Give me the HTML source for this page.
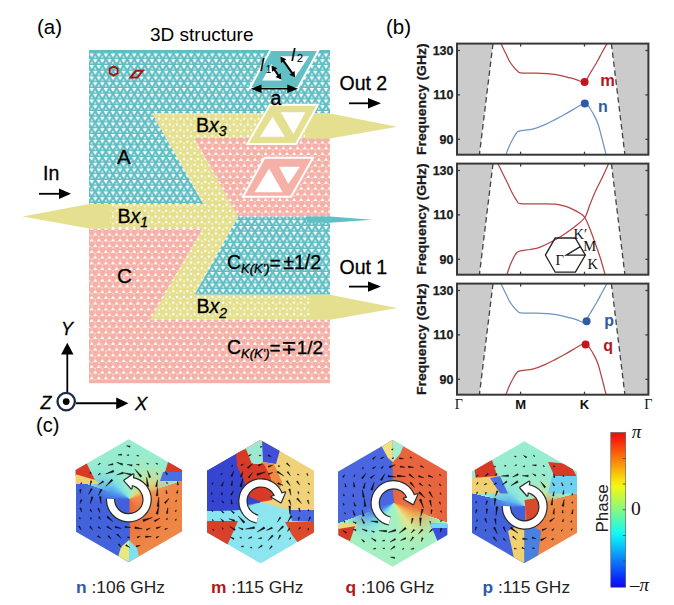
<!DOCTYPE html>
<html><head><meta charset="utf-8">
<style>
html,body{margin:0;padding:0;background:#fff;width:674px;height:605px;overflow:hidden;position:relative}
svg{display:block;position:absolute;left:0;top:0;font-family:"Liberation Sans",sans-serif}
</style></head><body>
<div style="position:absolute;left:75.5px;top:439.3px;width:106.5px;height:123.0px;clip-path:polygon(53.3px 0.0px, 106.5px 30.8px, 106.5px 92.2px, 53.3px 123.0px, 0.0px 92.2px, 0.0px 30.8px);background:conic-gradient(from 0deg at 53.5px 59.7px, #98ecd0 0deg, #98ecd0 71deg, #ee8646 71deg, #ee8646 180deg, #4363dc 180deg, #4363dc 289deg, #98ecd0 289deg)"></div>
<div style="position:absolute;left:75.5px;top:439.3px;width:106.5px;height:123.0px;clip-path:polygon(53.3px 0.0px, 106.5px 30.8px, 106.5px 92.2px, 53.3px 123.0px, 0.0px 92.2px, 0.0px 30.8px);background:conic-gradient(from 0deg at 53.5px 59.7px, #98ecd0 0deg, #b8eaa8 30deg, #f0d070 55deg, #f29050 78deg, #ee7a40 130deg, #e86a38 179deg, #4060dc 181deg, #4262dc 265deg, #50a0f0 292deg, #80e0e0 318deg, #98ecd0 345deg);-webkit-mask-image:radial-gradient(circle at 53.5px 59.7px, #000 20px, transparent 48px);mask-image:radial-gradient(circle at 53.5px 59.7px, #000 20px, transparent 48px)"></div>
<div style="position:absolute;left:207.0px;top:439.8px;width:107.0px;height:123.6px;clip-path:polygon(53.5px 0.0px, 107.0px 30.9px, 107.0px 92.7px, 53.5px 123.6px, 0.0px 92.7px, 0.0px 30.9px);background:conic-gradient(from 0deg at 54.2px 62.2px, #f0d27a 0deg, #f0d27a 90deg, #f0d27a 100deg, #90e6ee 110deg, #88e4f0 250deg, #3848d2 262deg, #3545d0 330deg, #d83a28 335deg, #d8402a 358deg, #f0d27a 360deg)"></div>
<div style="position:absolute;left:337.8px;top:440.1px;width:109.6px;height:126.6px;clip-path:polygon(54.8px 0.0px, 109.6px 31.7px, 109.6px 94.9px, 54.8px 126.6px, 0.0px 94.9px, 0.0px 31.7px);background:conic-gradient(from 0deg at 55.7px 62.9px, #e8643f 0deg, #e8643f 110deg, #a4f0c0 110deg, #a4f0c0 250deg, #4a66e0 250deg, #4a66e0 358deg, #e8643f 358deg)"></div>
<div style="position:absolute;left:337.8px;top:440.1px;width:109.6px;height:126.6px;clip-path:polygon(54.8px 0.0px, 109.6px 31.7px, 109.6px 94.9px, 54.8px 126.6px, 0.0px 94.9px, 0.0px 31.7px);background:conic-gradient(from 0deg at 55.7px 62.9px, #e8643f 0deg, #ec7040 100deg, #f0b050 122deg, #e0e890 145deg, #a4f0c0 172deg, #a0f0d0 205deg, #70d8f0 225deg, #4a80e8 245deg, #4a66e0 262deg, #4a66e0 357deg, #e8643f 359deg);-webkit-mask-image:radial-gradient(circle at 55.7px 62.9px, #000 22px, transparent 50px);mask-image:radial-gradient(circle at 55.7px 62.9px, #000 22px, transparent 50px)"></div>
<div style="position:absolute;left:471.5px;top:441.3px;width:105.7px;height:122.0px;clip-path:polygon(52.8px 0.0px, 105.7px 30.5px, 105.7px 91.5px, 52.8px 122.0px, 0.0px 91.5px, 0.0px 30.5px);background:conic-gradient(from 0deg at 53.2px 65.4px, #98ecd0 0deg, #98ecd0 76deg, #ee8646 76deg, #ee8646 180deg, #4363dc 180deg, #4363dc 284deg, #98ecd0 284deg)"></div>
<div style="position:absolute;left:471.5px;top:441.3px;width:105.7px;height:122.0px;clip-path:polygon(52.8px 0.0px, 105.7px 30.5px, 105.7px 91.5px, 52.8px 122.0px, 0.0px 91.5px, 0.0px 30.5px);background:conic-gradient(from 0deg at 53.2px 65.4px, #98ecd0 0deg, #a8eac0 30deg, #d0e890 55deg, #f09048 80deg, #ee7a40 130deg, #e86a38 179deg, #4060dc 181deg, #4262dc 262deg, #60b8f0 290deg, #88e4e0 318deg, #98ecd0 345deg);-webkit-mask-image:radial-gradient(circle at 53.2px 65.4px, #000 18px, transparent 40px);mask-image:radial-gradient(circle at 53.2px 65.4px, #000 18px, transparent 40px)"></div>
<svg width="674" height="605" viewBox="0 0 674 605">
<defs>
<pattern id="pT" patternUnits="userSpaceOnUse" width="7.1" height="11.5" x="89" y="53.5">
<rect width="7.1" height="11.5" fill="#5fbec3"/>
<path d="M0.40,0.10 L5.00,0.10 L2.70,3.80ZM3.95,5.85 L8.55,5.85 L6.25,9.55ZM-3.15,5.85 L1.45,5.85 L-0.85,9.55ZM7.50,0.10 L12.10,0.10 L9.80,3.80ZM-6.70,0.10 L-2.10,0.10 L-4.40,3.80Z" fill="#fff"/>
<path d="M6.25,2.10 L7.55,4.30 L4.95,4.30ZM-0.85,2.10 L0.45,4.30 L-2.15,4.30ZM2.70,7.85 L4.00,10.05 L1.40,10.05ZM2.70,-3.65 L4.00,-1.45 L1.40,-1.45Z" fill="#fff" opacity="0.9"/>
</pattern>
<pattern id="pP" patternUnits="userSpaceOnUse" width="7.1" height="11.5" x="89" y="53.5">
<rect width="7.1" height="11.5" fill="#f5b1a7"/>
<path d="M2.70,0.60 L4.70,3.90 L0.70,3.90ZM6.25,6.35 L8.25,9.65 L4.25,9.65ZM-0.85,6.35 L1.15,9.65 L-2.85,9.65ZM9.80,0.60 L11.80,3.90 L7.80,3.90ZM-4.40,0.60 L-2.40,3.90 L-6.40,3.90Z" fill="#fff"/>
<path d="M5.15,3.90 L7.35,3.90 L6.25,5.70ZM-1.95,3.90 L0.25,3.90 L-0.85,5.70ZM1.60,9.65 L3.80,9.65 L2.70,11.45ZM1.60,-1.85 L3.80,-1.85 L2.70,-0.05Z" fill="#fff" opacity="0.6"/>
</pattern>
<pattern id="pY" patternUnits="userSpaceOnUse" width="7.1" height="11.5" x="89" y="53.5">
<rect width="7.1" height="11.5" fill="#e5e08e"/>
<circle cx="2.7" cy="1.8" r="1.2" fill="#fff"/>
<circle cx="6.25" cy="7.55" r="1.2" fill="#fff"/>
<circle cx="-0.85" cy="7.55" r="1.2" fill="#fff"/>
<circle cx="6.25" cy="3.6" r="0.85" fill="#fff" opacity="0.85"/>
<circle cx="-0.85" cy="3.6" r="0.85" fill="#fff" opacity="0.85"/>
<circle cx="2.7" cy="9.4" r="0.85" fill="#fff" opacity="0.85"/>
</pattern>
<marker id="ah" viewBox="0 0 10 10" refX="10" refY="5" markerWidth="10" markerHeight="10" markerUnits="userSpaceOnUse" orient="auto-start-reverse"><path d="M0,0 L10,5 L0,10Z" fill="#000"/></marker>
</defs>
<!-- ===== (a) structure ===== -->
<text x="37" y="34" font-size="20.5">(a)</text>
<text x="150" y="40.6" font-size="19">3D structure</text>

<!-- regions -->
<polygon points="89,50 330,50 330,113.5 152.5,113.5 203.5,204 89,204" fill="url(#pT)"/>
<rect x="89" y="50" width="241" height="2.6" fill="#5fbec3"/>
<polygon points="152.5,113.5 330,113.5 330,138 194,138 238,216.3 194.7,294.5 330,294.5 330,320 150,320 202.7,228.5 89,228.5 89,204 203.5,204" fill="url(#pY)"/>
<polygon points="194,138 330,138 330,216.5 238,216.5" fill="url(#pP)"/>
<polygon points="238,216.5 330,216.5 330,294.5 194.7,294.5" fill="url(#pT)"/>
<polygon points="89,228.5 202.7,228.5 150,320 330,320 330,383 89,383" fill="url(#pP)"/>
<rect x="89" y="380.2" width="241" height="3" fill="#f5b1a7"/>

<!-- wedges -->
<polygon points="110,204 89,204 22.5,216.5 89,228.5 110,228.5" fill="#e5e090"/>
<polygon points="305,113.5 330,113.5 397.4,126.7 330,138.5 305,138.5" fill="#e5e090"/>
<polygon points="307,216.5 330,216.5 372.3,219.7 330,222.8 307,222.8" fill="#62c0c4"/>
<polygon points="310,294.8 330,294.8 397.1,307.9 330,319.8 310,319.8" fill="#e5e090"/>

<!-- insets -->
<polygon points="270.5,50 318.6,50 297.8,88.3 249.7,88.3" fill="#62c0c4" stroke="#fff" stroke-width="2"/>
<polygon points="262.2,80.6 281.8,80.6 271.6,64" fill="#fff"/>
<polygon points="280,56.3 309,56.3 294.9,77.6" fill="#fff"/>
<polygon points="270,104.7 318,104.7 296,144 247.3,144" fill="#e5e090" stroke="#fff" stroke-width="2"/>
<polygon points="260,136.7 284.7,136.7 272.7,116.7" fill="#fff"/>
<polygon points="280.7,112.3 305.4,112.3 293.4,134" fill="#fff"/>
<polygon points="264.5,157.7 313,157.7 291,196.8 243,196.8" fill="#f5b1a7" stroke="#fff" stroke-width="2"/>
<polygon points="254.5,192.3 282.7,192.3 269.1,168.6" fill="#fff"/>
<polygon points="279.1,166.8 300,166.8 288.2,184" fill="#fff"/>

<!-- markers -->
<polygon points="113.6,66.3 117.6,68.6 117.6,73.2 113.6,75.5 109.6,73.2 109.6,68.6" fill="none" stroke="#a51515" stroke-width="2"/>
<polygon points="136,70.8 142.8,70.8 137.2,77.6 130.6,77.6" fill="none" stroke="#a51515" stroke-width="2"/>

<!-- labels -->
<g font-size="19.5" stroke="#000" stroke-width="0.3">
<text x="117" y="164.3" font-size="20.5">A</text>
<text x="117" y="282.8" font-size="20.8">C</text>
<text x="117.5" y="222.6">B<tspan font-style="italic">x</tspan><tspan font-style="italic" font-size="14" dy="4.5">1</tspan></text>
<text x="196" y="131.7">B<tspan font-style="italic">x</tspan><tspan font-style="italic" font-size="14" dy="4.5">3</tspan></text>
<text x="196.5" y="313">B<tspan font-style="italic">x</tspan><tspan font-style="italic" font-size="14" dy="4.5">2</tspan></text>
<text x="227" y="269.3">C<tspan font-style="italic" font-size="13" dy="4">K(K')</tspan><tspan dy="-4" font-size="19">=</tspan><tspan dx="2.5" font-size="19.5">±1/2</tspan></text>
<text x="227" y="353.9">C<tspan font-style="italic" font-size="13" dy="4">K(K')</tspan><tspan dy="-4" font-size="19">=∓1/2</tspan></text>
<text x="43" y="180.3">In</text>
<text x="339.5" y="90.4">Out 2</text>
<text x="339.5" y="274.1">Out 1</text>
<text x="270.5" y="104.9">a</text>
</g>
<text x="260" y="70.8" font-size="18" font-style="italic">l</text><text x="265.8" y="72.8" font-size="10">1</text>
<text x="291" y="61.2" font-size="18.5" font-style="italic">l</text><text x="296.8" y="62" font-size="11.5">2</text>

<!-- arrows -->
<g stroke="#000" stroke-width="1.8" fill="none">
<line x1="39" y1="193.8" x2="62" y2="193.8"/>
<line x1="349" y1="103.3" x2="370" y2="103.3"/>
<line x1="349" y1="286.6" x2="370" y2="286.6"/>
</g>
<polygon points="59,188.6 71,193.8 59,199" fill="#000"/>
<polygon points="368,98.1 381,103.3 368,108.5" fill="#000"/>
<polygon points="368,281.4 381,286.6 368,291.8" fill="#000"/>
<!-- a arrow -->
<line x1="255" y1="88.7" x2="294" y2="88.7" stroke="#000" stroke-width="1.8"/>
<polygon points="250.8,88.7 261.5,84.5 261.5,92.9" fill="#000"/>
<polygon points="298,88.7 287.3,84.5 287.3,92.9" fill="#000"/>
<!-- l1 / l2 arrows -->
<line x1="274.0" y1="69.1" x2="278.8" y2="76.0" stroke="#000" stroke-width="2.0"/><polygon points="271.5,65.5 272.0,71.8 277.3,68.2" fill="#000"/><polygon points="281.3,79.6 275.5,76.9 280.8,73.3" fill="#000"/>
<line x1="282.9" y1="60.2" x2="292.6" y2="73.7" stroke="#000" stroke-width="2.0"/><polygon points="280.4,56.6 281.0,62.9 286.2,59.2" fill="#000"/><polygon points="295.1,77.3 289.3,74.7 294.5,71.0" fill="#000"/>

<!-- axes -->
<line x1="67.3" y1="392" x2="67.3" y2="352" stroke="#000" stroke-width="1.8"/>
<polygon points="67.3,342.7 73.5,354.5 61.1,354.5" fill="#000"/>
<line x1="76" y1="403.3" x2="118" y2="403.3" stroke="#000" stroke-width="1.9"/>
<polygon points="128.5,403.3 116.2,397.4 116.2,409.2" fill="#000"/>
<circle cx="66.2" cy="401.6" r="8.7" fill="#fff" stroke="#1b2a4a" stroke-width="2.3"/>
<circle cx="66.2" cy="401.6" r="3.4" fill="#000"/>
<g font-size="18" font-style="italic" stroke="#000" stroke-width="0.3">
<text x="61" y="334.5">Y</text>
<text x="40.5" y="409">Z</text>
<text x="135" y="409.5" font-size="18.5">X</text>
</g>

<text x="386" y="34" font-size="20.5">(b)</text>
<polygon points="457.0,43.6 493,43.6 479.4,154.7 457.0,154.7" fill="#cbcbcb"/>
<polygon points="611.4,43.6 648.4,43.6 648.4,154.7 624.9,154.7" fill="#cbcbcb"/>
<line x1="493" y1="43.6" x2="479.4" y2="154.7" stroke="#444" stroke-width="1.3" stroke-dasharray="5.5,3.5"/>
<line x1="611.4" y1="43.6" x2="624.9" y2="154.7" stroke="#444" stroke-width="1.3" stroke-dasharray="5.5,3.5"/>
<path d="M500.90,43.60 C501.42,44.67 502.98,47.93 504.00,50.00 C505.02,52.07 506.03,54.03 507.00,56.00 C507.97,57.97 508.72,60.00 509.80,61.80 C510.88,63.60 512.17,65.22 513.50,66.80 C514.83,68.38 516.63,70.30 517.80,71.30 C518.97,72.30 517.63,72.50 520.50,72.80 C523.37,73.10 530.17,72.93 535.00,73.10 C539.83,73.27 545.33,73.43 549.50,73.80 C553.67,74.17 556.68,74.65 560.00,75.30 C563.32,75.95 566.57,76.95 569.40,77.70 C572.23,78.45 574.47,79.07 577.00,79.80 C579.53,80.53 582.43,83.15 584.60,82.10 C586.77,81.05 587.92,76.88 590.00,73.50 C592.08,70.12 595.10,65.30 597.10,61.80 C599.10,58.30 600.33,55.53 602.00,52.50 C603.67,49.47 606.25,45.08 607.10,43.60" fill="none" stroke="#b34444" stroke-width="1.25"/>
<path d="M505.90,154.70 C506.50,153.17 508.18,148.42 509.50,145.50 C510.82,142.58 512.55,139.37 513.80,137.20 C515.05,135.03 515.97,133.55 517.00,132.50 C518.03,131.45 517.23,131.50 520.00,130.90 C522.77,130.30 529.43,129.95 533.60,128.90 C537.77,127.85 541.35,126.18 545.00,124.60 C548.65,123.02 552.17,121.12 555.50,119.40 C558.83,117.68 562.03,115.97 565.00,114.30 C567.97,112.63 570.00,111.20 573.30,109.40 C576.60,107.60 582.02,103.65 584.80,103.50 C587.58,103.35 588.27,106.18 590.00,108.50 C591.73,110.82 593.78,114.57 595.20,117.40 C596.62,120.23 597.52,122.53 598.50,125.50 C599.48,128.47 600.23,131.95 601.10,135.20 C601.97,138.45 602.87,141.75 603.70,145.00 C604.53,148.25 605.70,153.08 606.10,154.70" fill="none" stroke="#7093c4" stroke-width="1.25"/>
<rect x="457.0" y="43.6" width="191.4" height="111.1" fill="none" stroke="#383838" stroke-width="2"/>
<line x1="457.0" y1="50.5" x2="460.0" y2="50.5" stroke="#3c3c3c" stroke-width="1.3"/>
<line x1="648.4" y1="50.5" x2="645.4" y2="50.5" stroke="#3c3c3c" stroke-width="1.3"/>
<text x="453.5" y="54.8" font-size="12.5" font-weight="bold" text-anchor="end" fill="#1a1a1a" stroke="#1a1a1a" stroke-width="0.25">130</text>
<line x1="457.0" y1="94.9" x2="460.0" y2="94.9" stroke="#3c3c3c" stroke-width="1.3"/>
<line x1="648.4" y1="94.9" x2="645.4" y2="94.9" stroke="#3c3c3c" stroke-width="1.3"/>
<text x="453.5" y="99.2" font-size="12.5" font-weight="bold" text-anchor="end" fill="#1a1a1a" stroke="#1a1a1a" stroke-width="0.25">110</text>
<line x1="457.0" y1="139.3" x2="460.0" y2="139.3" stroke="#3c3c3c" stroke-width="1.3"/>
<line x1="648.4" y1="139.3" x2="645.4" y2="139.3" stroke="#3c3c3c" stroke-width="1.3"/>
<text x="453.5" y="143.6" font-size="12.5" font-weight="bold" text-anchor="end" fill="#1a1a1a" stroke="#1a1a1a" stroke-width="0.25">90</text>
<line x1="520.6" y1="43.6" x2="520.6" y2="46.6" stroke="#3c3c3c" stroke-width="1.3"/>
<line x1="520.6" y1="154.7" x2="520.6" y2="151.7" stroke="#3c3c3c" stroke-width="1.3"/>
<line x1="584.5" y1="43.6" x2="584.5" y2="46.6" stroke="#3c3c3c" stroke-width="1.3"/>
<line x1="584.5" y1="154.7" x2="584.5" y2="151.7" stroke="#3c3c3c" stroke-width="1.3"/>
<text transform="translate(426.3,99.2) rotate(-90)" font-size="13.2" font-weight="bold" text-anchor="middle" textLength="111.5" lengthAdjust="spacingAndGlyphs" fill="#1a1a1a" stroke="#1a1a1a" stroke-width="0.25">Frequency (GHz)</text>
<polygon points="457.0,163.6 493,163.6 479.4,274.7 457.0,274.7" fill="#cbcbcb"/>
<polygon points="611.4,163.6 648.4,163.6 648.4,274.7 624.9,274.7" fill="#cbcbcb"/>
<line x1="493" y1="163.6" x2="479.4" y2="274.7" stroke="#444" stroke-width="1.3" stroke-dasharray="5.5,3.5"/>
<line x1="611.4" y1="163.6" x2="624.9" y2="274.7" stroke="#444" stroke-width="1.3" stroke-dasharray="5.5,3.5"/>
<path d="M497.90,163.60 C498.67,165.17 500.83,169.63 502.50,173.00 C504.17,176.37 506.32,180.55 507.90,183.80 C509.48,187.05 510.52,189.68 512.00,192.50 C513.48,195.32 515.38,198.83 516.80,200.70 C518.22,202.57 516.63,203.18 520.50,203.70 C524.37,204.22 534.17,203.73 540.00,203.80 C545.83,203.87 551.33,203.70 555.50,204.10 C559.67,204.50 562.03,205.28 565.00,206.20 C567.97,207.12 570.88,208.47 573.30,209.60 C575.72,210.73 577.58,211.68 579.50,213.00 C581.42,214.32 583.05,214.83 584.80,217.50 C586.55,220.17 588.27,224.70 590.00,229.00 C591.73,233.30 593.45,238.38 595.20,243.30 C596.95,248.22 598.85,253.27 600.50,258.50 C602.15,263.73 604.33,272.00 605.10,274.70" fill="none" stroke="#b34444" stroke-width="1.25"/>
<path d="M506.90,274.70 C507.42,273.17 508.85,268.42 510.00,265.50 C511.15,262.58 512.63,259.37 513.80,257.20 C514.97,255.03 515.88,253.55 517.00,252.50 C518.12,251.45 518.33,251.40 520.50,250.90 C522.67,250.40 526.82,250.10 530.00,249.50 C533.18,248.90 535.93,248.63 539.60,247.30 C543.27,245.97 547.70,243.82 552.00,241.50 C556.30,239.18 561.57,235.90 565.40,233.40 C569.23,230.90 571.77,229.15 575.00,226.50 C578.23,223.85 582.30,221.17 584.80,217.50 C587.30,213.83 588.27,208.80 590.00,204.50 C591.73,200.20 593.20,196.12 595.20,191.70 C597.20,187.28 599.75,182.68 602.00,178.00 C604.25,173.32 607.58,166.00 608.70,163.60" fill="none" stroke="#b34444" stroke-width="1.25"/>
<rect x="457.0" y="163.6" width="191.4" height="111.1" fill="none" stroke="#383838" stroke-width="2"/>
<line x1="457.0" y1="170.5" x2="460.0" y2="170.5" stroke="#3c3c3c" stroke-width="1.3"/>
<line x1="648.4" y1="170.5" x2="645.4" y2="170.5" stroke="#3c3c3c" stroke-width="1.3"/>
<text x="453.5" y="174.8" font-size="12.5" font-weight="bold" text-anchor="end" fill="#1a1a1a" stroke="#1a1a1a" stroke-width="0.25">130</text>
<line x1="457.0" y1="214.9" x2="460.0" y2="214.9" stroke="#3c3c3c" stroke-width="1.3"/>
<line x1="648.4" y1="214.9" x2="645.4" y2="214.9" stroke="#3c3c3c" stroke-width="1.3"/>
<text x="453.5" y="219.2" font-size="12.5" font-weight="bold" text-anchor="end" fill="#1a1a1a" stroke="#1a1a1a" stroke-width="0.25">110</text>
<line x1="457.0" y1="259.3" x2="460.0" y2="259.3" stroke="#3c3c3c" stroke-width="1.3"/>
<line x1="648.4" y1="259.3" x2="645.4" y2="259.3" stroke="#3c3c3c" stroke-width="1.3"/>
<text x="453.5" y="263.6" font-size="12.5" font-weight="bold" text-anchor="end" fill="#1a1a1a" stroke="#1a1a1a" stroke-width="0.25">90</text>
<line x1="520.6" y1="163.6" x2="520.6" y2="166.6" stroke="#3c3c3c" stroke-width="1.3"/>
<line x1="520.6" y1="274.7" x2="520.6" y2="271.7" stroke="#3c3c3c" stroke-width="1.3"/>
<line x1="584.5" y1="163.6" x2="584.5" y2="166.6" stroke="#3c3c3c" stroke-width="1.3"/>
<line x1="584.5" y1="274.7" x2="584.5" y2="271.7" stroke="#3c3c3c" stroke-width="1.3"/>
<text transform="translate(426.3,219.1) rotate(-90)" font-size="13.2" font-weight="bold" text-anchor="middle" textLength="111.5" lengthAdjust="spacingAndGlyphs" fill="#1a1a1a" stroke="#1a1a1a" stroke-width="0.25">Frequency (GHz)</text>
<polygon points="457.0,283.6 493,283.6 479.4,394.7 457.0,394.7" fill="#cbcbcb"/>
<polygon points="611.4,283.6 648.4,283.6 648.4,394.7 624.9,394.7" fill="#cbcbcb"/>
<line x1="493" y1="283.6" x2="479.4" y2="394.7" stroke="#444" stroke-width="1.3" stroke-dasharray="5.5,3.5"/>
<line x1="611.4" y1="283.6" x2="624.9" y2="394.7" stroke="#444" stroke-width="1.3" stroke-dasharray="5.5,3.5"/>
<path d="M500.90,283.60 C501.42,284.67 502.98,287.93 504.00,290.00 C505.02,292.07 506.03,294.03 507.00,296.00 C507.97,297.97 508.72,300.00 509.80,301.80 C510.88,303.60 512.17,305.22 513.50,306.80 C514.83,308.38 516.63,310.30 517.80,311.30 C518.97,312.30 517.63,312.50 520.50,312.80 C523.37,313.10 530.17,312.93 535.00,313.10 C539.83,313.27 545.33,313.43 549.50,313.80 C553.67,314.17 556.68,314.65 560.00,315.30 C563.32,315.95 566.57,316.95 569.40,317.70 C572.23,318.45 574.47,319.07 577.00,319.80 C579.53,320.53 582.43,323.15 584.60,322.10 C586.77,321.05 587.92,316.88 590.00,313.50 C592.08,310.12 595.10,305.30 597.10,301.80 C599.10,298.30 600.33,295.53 602.00,292.50 C603.67,289.47 606.25,285.08 607.10,283.60" fill="none" stroke="#7093c4" stroke-width="1.25"/>
<path d="M505.90,394.70 C506.50,393.17 508.18,388.42 509.50,385.50 C510.82,382.58 512.55,379.37 513.80,377.20 C515.05,375.03 515.97,373.55 517.00,372.50 C518.03,371.45 517.23,371.50 520.00,370.90 C522.77,370.30 529.43,369.95 533.60,368.90 C537.77,367.85 541.35,366.18 545.00,364.60 C548.65,363.02 552.17,361.12 555.50,359.40 C558.83,357.68 562.03,355.97 565.00,354.30 C567.97,352.63 570.00,351.20 573.30,349.40 C576.60,347.60 582.02,343.65 584.80,343.50 C587.58,343.35 588.27,346.18 590.00,348.50 C591.73,350.82 593.78,354.57 595.20,357.40 C596.62,360.23 597.52,362.53 598.50,365.50 C599.48,368.47 600.23,371.95 601.10,375.20 C601.97,378.45 602.87,381.75 603.70,385.00 C604.53,388.25 605.70,393.08 606.10,394.70" fill="none" stroke="#b34444" stroke-width="1.25"/>
<rect x="457.0" y="283.6" width="191.4" height="111.1" fill="none" stroke="#383838" stroke-width="2"/>
<line x1="457.0" y1="290.5" x2="460.0" y2="290.5" stroke="#3c3c3c" stroke-width="1.3"/>
<line x1="648.4" y1="290.5" x2="645.4" y2="290.5" stroke="#3c3c3c" stroke-width="1.3"/>
<text x="453.5" y="294.8" font-size="12.5" font-weight="bold" text-anchor="end" fill="#1a1a1a" stroke="#1a1a1a" stroke-width="0.25">130</text>
<line x1="457.0" y1="334.9" x2="460.0" y2="334.9" stroke="#3c3c3c" stroke-width="1.3"/>
<line x1="648.4" y1="334.9" x2="645.4" y2="334.9" stroke="#3c3c3c" stroke-width="1.3"/>
<text x="453.5" y="339.2" font-size="12.5" font-weight="bold" text-anchor="end" fill="#1a1a1a" stroke="#1a1a1a" stroke-width="0.25">110</text>
<line x1="457.0" y1="379.3" x2="460.0" y2="379.3" stroke="#3c3c3c" stroke-width="1.3"/>
<line x1="648.4" y1="379.3" x2="645.4" y2="379.3" stroke="#3c3c3c" stroke-width="1.3"/>
<text x="453.5" y="383.6" font-size="12.5" font-weight="bold" text-anchor="end" fill="#1a1a1a" stroke="#1a1a1a" stroke-width="0.25">90</text>
<line x1="520.6" y1="283.6" x2="520.6" y2="286.6" stroke="#3c3c3c" stroke-width="1.3"/>
<line x1="520.6" y1="394.7" x2="520.6" y2="391.7" stroke="#3c3c3c" stroke-width="1.3"/>
<line x1="584.5" y1="283.6" x2="584.5" y2="286.6" stroke="#3c3c3c" stroke-width="1.3"/>
<line x1="584.5" y1="394.7" x2="584.5" y2="391.7" stroke="#3c3c3c" stroke-width="1.3"/>
<text transform="translate(426.3,339.2) rotate(-90)" font-size="13.2" font-weight="bold" text-anchor="middle" textLength="111.5" lengthAdjust="spacingAndGlyphs" fill="#1a1a1a" stroke="#1a1a1a" stroke-width="0.25">Frequency (GHz)</text>
<circle cx="584.6" cy="82.1" r="4" fill="#c0161c"/>
<circle cx="584.8" cy="103.5" r="4" fill="#2f5aa6"/>
<circle cx="586.6" cy="321.3" r="4" fill="#2f5aa6"/>
<circle cx="585.6" cy="344.5" r="4" fill="#c0161c"/>
<text x="600.3" y="86" font-size="16.5" font-weight="bold" fill="#b5161c">m</text>
<text x="598" y="111.7" font-size="16" font-weight="bold" fill="#2f5aa6">n</text>
<text x="604.3" y="325.8" font-size="16" font-weight="bold" fill="#2f5aa6">p</text>
<text x="603.3" y="351.2" font-size="16" font-weight="bold" fill="#b5161c">q</text>
<polygon points="555.2,238.0 575.2,238.0 585.4,255.1 575.4,272.2 555.2,272.2 545.4,255.1" fill="none" stroke="#222" stroke-width="1.3"/>
<polyline points="585.4,255.1 566.2,255.1 580.3,246.6" fill="none" stroke="#222" stroke-width="1.3"/>
<g font-family="Liberation Serif" font-size="14.5" fill="#111"><text x="555.6" y="265.2">Γ</text><text x="573.5" y="238.5">K′</text><text x="583.3" y="250.5">M</text><text x="587.6" y="269.2">K</text></g>
<g font-size="13" font-weight="bold" fill="#111" text-anchor="middle"><text x="520.7" y="409">M</text><text x="584.5" y="409">K</text></g>
<g font-family="Liberation Serif" font-size="14" fill="#111" text-anchor="middle"><text x="458.8" y="408.5">Γ</text><text x="648.3" y="408.5">Γ</text></g>
<text x="36" y="432" font-size="20">(c)</text>
<defs>
<clipPath id="hc0"><polygon points="128.8,439.3 182.1,470.1 182.1,531.5 128.8,562.3 75.5,531.5 75.5,470.1"/></clipPath>
<clipPath id="hc1"><polygon points="260.5,439.8 314.0,470.7 314.0,532.5 260.5,563.4 207.0,532.5 207.0,470.7"/></clipPath>
<clipPath id="hc2"><polygon points="392.6,440.1 447.4,471.8 447.4,535.0 392.6,566.7 337.8,535.0 337.8,471.8"/></clipPath>
<clipPath id="hc3"><polygon points="524.3,441.3 577.1,471.8 577.1,532.8 524.3,563.3 471.5,532.8 471.5,471.8"/></clipPath>
</defs>
<g clip-path="url(#hc0)">
<polygon points="74.9,465 86,462 95,480 74.9,476" fill="#d83a28"/>
<polygon points="74.9,474 95,480 100,484 74.9,484" fill="#f0d070"/>
<polygon points="168,462 182.6,466 182.6,472 165,472" fill="#d83a28"/>
<polygon points="163,472 182.6,472 182.6,481 160,481" fill="#4a70e0"/>
<polygon points="121,547 129,540 129,562 118,557" fill="#e8e880"/>
<polygon points="129,540 137,548 139,557 129,562" fill="#80e0f0"/>
</g>
<g clip-path="url(#hc1)">
<polygon points="240,449 260.5,439.8 263,446 263,464 250,464" fill="#9ce8d0"/>
<polygon points="262,441 280,450 276,464 263,462" fill="#4050d8"/>
<polygon points="206.7,470 240,449 248,475 252,497 240,510 206.7,511" fill="#3545d0"/>
<polygon points="262,462 274,464 282,482 276,498 270,492" fill="#ec8a42"/>
<polygon points="236,451 246,449 252,464 264,464 270,476 274,490 272,500 261,502 250,497 243,478 237,466" fill="#d83a28"/>
<polygon points="206.7,511 244,511 250,520 206.7,521" fill="#88e4ee"/>
<polygon points="289,510 316,510 316,522 292,521" fill="#4a68e0"/>
<polygon points="206.7,521 238,521 226,548 214,540 206.7,533" fill="#d8402a"/>
<polygon points="285,522 316,522 316,533 302,548 292,535" fill="#dc4a2c"/>
</g>
<g clip-path="url(#hc2)">
<polygon points="380,440 392.6,440 393,462 388,458 382,447" fill="#f0e080"/>
<polygon points="392.6,440 406,440 400,454 393,462" fill="#a0f0d0"/>
<polygon points="338.4,528 356,523.5 350,541 338.4,536" fill="#d83a28"/>
<polygon points="338.4,523.5 357,523.5 356,526 338.4,529" fill="#f0d878"/>
<polygon points="430,523.5 448.9,524 448.9,536 438,542" fill="#3a50d8"/>
<polygon points="430,523.5 448.9,523.5 448.9,528 432,528" fill="#70d8f0"/>
</g>
<g clip-path="url(#hc3)">
<polygon points="474,466 492,460 498,478 476,480" fill="#d83a28"/>
<polygon points="472,478 498,476 504,493.5 472,493.5" fill="#f0d070"/>
<polygon points="490,478 500,476 508,493.5 500,493.5" fill="#4a70e0"/>
<polygon points="548,462 570,464 577.5,478 558,484" fill="#d83a28"/>
<polygon points="552,476 577.5,476 577.5,493.5 548,493.5" fill="#70d0f0"/>
<polygon points="508,531 524.5,521 524.5,563 514,558" fill="#f0d070"/>
<polygon points="524.5,521 541,531 538,556 524.5,563" fill="#4a80e0"/>
<polygon points="524.5,500 537,498 540,516 527,522" fill="#d84a30"/>
</g>
<path d="M126.5,445.8L130.2,446.1L129.9,447.3ZM118.0,454.9L121.6,454.1L121.7,455.3ZM126.9,455.2L128.7,454.6L128.8,455.6ZM136.6,455.6L138.5,455.3L138.4,456.3ZM97.8,465.0L99.9,462.9L100.5,463.8ZM108.1,465.3L112.8,463.5L113.1,464.8ZM116.6,462.3L122.8,463.8L122.3,465.3ZM127.0,464.5L132.2,464.7L132.0,466.1ZM136.1,464.4L139.2,464.2L139.1,465.3ZM146.6,463.1L148.5,463.7L147.9,464.6ZM155.7,463.1L157.8,463.7L157.2,464.6ZM89.3,473.3L90.7,472.1L91.1,473.1ZM97.9,475.1L99.8,473.1L100.5,474.0ZM105.7,473.9L113.3,470.2L113.9,471.9ZM116.6,474.9L123.0,472.0L123.5,473.6ZM123.6,472.8L132.9,474.2L132.4,476.1ZM134.9,469.2L141.9,476.0L140.4,477.2ZM147.4,470.6L150.8,477.2L149.2,477.8ZM156.4,472.6L158.1,474.1L157.3,474.7ZM165.3,471.5L167.8,474.2L166.7,474.8ZM80.4,483.9L81.4,482.4L82.1,483.2ZM90.1,485.4L90.7,480.8L92.0,481.1ZM98.3,484.8L102.9,480.8L103.8,482.1ZM105.7,486.5L111.6,479.1L112.9,480.4ZM146.6,477.2L148.8,486.4L146.9,486.7ZM157.5,479.8L157.1,486.8L155.5,486.5ZM166.5,481.9L167.8,483.2L166.9,483.7ZM177.7,480.9L178.5,484.8L177.2,484.9ZM80.2,493.4L79.8,489.6L81.1,489.6ZM88.6,494.3L91.0,488.5L92.3,489.2ZM98.3,495.6L100.7,489.1L102.1,489.8ZM157.5,487.6L157.9,495.9L156.2,495.8ZM166.1,490.1L167.3,493.4L166.1,493.6ZM177.6,490.2L177.7,493.3L176.5,493.1ZM80.0,503.5L80.9,499.6L82.1,500.1ZM90.4,503.7L91.4,496.7L93.0,497.2ZM101.1,503.5L99.4,496.8L101.0,496.6ZM158.8,497.2L158.9,506.3L157.0,506.2ZM169.1,498.5L165.5,503.6L164.3,502.6ZM176.4,499.8L176.3,501.7L175.4,501.4ZM81.8,511.9L79.7,508.2L80.9,507.7ZM91.6,512.2L89.8,509.7L90.9,509.2ZM99.8,512.5L97.8,508.6L99.0,508.2ZM158.9,505.6L157.9,514.2L156.1,513.8ZM167.9,507.7L167.7,513.5L166.3,513.3ZM176.3,509.8L176.0,511.7L175.1,511.2ZM80.2,519.3L79.2,517.7L80.1,517.4ZM91.1,519.5L90.2,517.9L91.2,517.6ZM100.5,519.4L98.4,517.1L99.4,516.5ZM112.8,521.5L106.8,517.4L107.9,516.1ZM152.4,517.4L143.5,521.6L142.9,519.7ZM159.9,518.2L155.0,521.8L154.3,520.5ZM167.3,517.9L167.2,519.8L166.2,519.4ZM176.3,518.7L176.0,520.6L175.1,520.1ZM81.1,529.9L78.6,526.6L79.7,525.9ZM92.7,530.0L89.5,526.9L90.5,526.1ZM101.0,528.8L97.9,527.5L98.6,526.5ZM111.8,529.6L106.9,527.3L107.6,526.1ZM121.2,528.4L115.1,527.7L115.4,526.2ZM130.8,527.5L124.9,527.6L125.1,526.2ZM142.2,528.8L134.8,528.5L135.1,526.8ZM150.4,528.0L146.7,530.4L146.2,529.2ZM160.7,526.7L156.7,528.9L156.2,527.6ZM167.6,528.4L165.2,529.8L164.8,528.7ZM100.8,538.0L97.4,536.6L98.0,535.5ZM111.2,539.1L107.8,536.4L108.8,535.5ZM121.2,538.3L116.6,534.8L117.6,533.8ZM129.9,537.8L127.5,537.4L127.9,536.4ZM140.3,536.2L137.6,537.9L137.2,536.8ZM151.4,536.6L145.6,537.5L145.5,536.0ZM159.0,536.4L156.4,538.2L156.0,537.1ZM121.4,547.4L118.1,544.6L119.1,543.7ZM129.8,547.5L125.6,545.7L126.3,544.5ZM140.4,545.5L136.3,547.0L136.1,545.7Z" fill="#0a0a0a" stroke="#0a0a0a" stroke-width="0.4" stroke-linejoin="round"/>
<path d="M262.2,446.7L260.5,447.5L260.3,446.5ZM251.3,454.6L249.2,456.2L248.7,455.2ZM261.2,455.3L259.5,456.1L259.3,455.1ZM271.2,456.5L268.0,455.9L268.4,454.8ZM232.8,464.9L232.2,466.6L231.3,466.0ZM243.4,464.2L241.4,465.8L240.9,464.8ZM253.0,463.3L248.3,468.6L247.2,467.4ZM262.5,463.4L258.9,466.2L258.2,465.0ZM272.6,465.3L268.5,467.3L268.1,466.1ZM280.1,466.0L278.2,466.7L278.1,465.7ZM290.1,466.5L286.3,463.8L287.2,462.8ZM222.3,473.3L221.4,474.9L220.7,474.2ZM233.7,471.0L232.2,476.6L230.8,476.1ZM242.8,471.4L241.8,477.1L240.4,476.6ZM252.6,472.5L249.3,478.1L248.0,477.2ZM265.5,471.9L257.4,475.6L256.8,473.8ZM272.8,472.5L268.7,474.7L268.2,473.5ZM283.8,475.9L276.8,472.3L277.8,470.9ZM290.4,475.8L287.0,472.2L288.1,471.4ZM299.2,475.1L297.4,474.6L297.9,473.8ZM308.0,475.9L306.5,473.8L307.5,473.4ZM212.8,482.6L212.4,484.4L211.5,483.9ZM223.8,481.7L222.2,486.3L221.0,485.7ZM232.3,480.6L232.3,485.5L230.9,485.3ZM242.9,478.3L241.7,487.0L239.9,486.5ZM283.1,485.4L277.5,483.9L278.1,482.5ZM290.2,485.7L286.2,481.5L287.4,480.6ZM299.7,485.1L296.5,481.7L297.6,480.9ZM309.4,484.9L308.1,483.5L309.1,483.0ZM211.8,492.3L212.3,494.1L211.3,494.2ZM221.8,492.1L222.5,494.8L221.4,494.9ZM233.4,490.7L231.8,495.2L230.6,494.6ZM290.9,495.3L288.7,489.3L290.2,488.9ZM298.5,494.3L297.8,491.8L298.9,491.7ZM309.3,493.4L307.7,492.3L308.5,491.7ZM212.5,500.1L213.7,501.6L212.8,502.0ZM221.9,500.7L223.9,502.3L223.0,503.0ZM231.2,499.4L232.5,503.9L231.1,504.1ZM290.9,505.2L288.5,500.2L289.8,499.8ZM301.5,503.5L296.6,499.0L297.8,498.0ZM309.0,504.2L307.1,500.5L308.3,500.1ZM211.6,510.1L213.2,511.0L212.5,511.7ZM220.6,510.3L224.1,512.4L223.2,513.3ZM230.5,510.2L234.5,512.6L233.6,513.7ZM290.0,514.4L288.8,506.0L290.6,505.9ZM300.1,511.9L298.4,508.4L299.6,508.1ZM308.9,511.3L307.7,509.9L308.7,509.5ZM212.3,519.2L213.6,520.5L212.7,521.0ZM220.6,518.6L223.8,521.0L222.9,521.9ZM228.8,518.7L234.7,520.0L234.2,521.4ZM238.2,516.1L245.0,521.9L243.6,523.2ZM277.4,522.1L279.8,517.0L281.0,517.8ZM287.8,522.1L290.6,515.5L292.1,516.3ZM298.6,520.4L298.6,517.3L299.8,517.6ZM308.5,521.1L309.7,516.9L310.9,517.4ZM212.2,529.5L214.1,529.7L213.7,530.6ZM222.2,527.5L223.5,528.8L222.6,529.3ZM229.7,526.5L235.4,529.3L234.6,530.6ZM238.5,527.6L243.2,528.8L242.6,530.0ZM245.5,529.1L254.3,526.7L254.6,528.5ZM257.2,531.9L264.0,526.8L265.0,528.4ZM266.5,530.3L271.9,527.1L272.5,528.5ZM277.7,531.8L282.5,525.8L283.7,527.0ZM287.4,531.4L289.2,528.1L290.1,528.9ZM298.5,529.4L300.1,527.2L300.8,528.0ZM308.0,530.4L307.9,528.5L308.9,528.7ZM230.0,537.0L234.1,538.2L233.6,539.4ZM239.7,537.2L241.6,537.4L241.2,538.4ZM248.1,538.4L251.5,536.6L251.9,537.8ZM258.3,538.5L261.5,537.4L261.7,538.6ZM268.0,540.5L272.1,535.0L273.3,536.1ZM278.1,539.4L279.7,535.0L280.9,535.6ZM289.6,539.4L290.1,537.6L291.0,538.2ZM241.0,546.6L243.3,545.8L243.4,546.9ZM250.0,547.3L251.9,547.2L251.7,548.2ZM258.3,548.2L261.6,544.9L262.4,546.0ZM269.4,549.2L271.4,545.7L272.4,546.5Z" fill="#0a0a0a" stroke="#0a0a0a" stroke-width="0.4" stroke-linejoin="round"/>
<path d="M393.3,448.8L392.1,450.2L391.6,449.3ZM375.5,456.5L373.3,459.5L372.4,458.6ZM384.1,456.9L381.1,459.1L380.6,458.0ZM394.0,457.7L392.4,458.9L392.0,458.0ZM403.5,458.6L399.5,459.0L399.6,457.7ZM412.2,458.1L409.9,457.8L410.3,456.8ZM363.2,467.0L363.3,468.8L362.3,468.6ZM375.9,466.6L373.1,469.0L372.5,467.9ZM383.4,465.9L381.9,468.8L380.9,468.1ZM395.3,464.8L389.7,467.9L389.2,466.4ZM404.9,467.2L400.2,467.3L400.4,466.0ZM413.7,467.4L408.4,467.5L408.5,466.1ZM423.9,467.6L420.3,466.5L420.9,465.4ZM344.5,474.6L343.6,477.4L342.6,476.9ZM354.7,474.7L354.7,476.6L353.7,476.3ZM365.9,473.4L362.8,478.8L361.5,477.9ZM374.8,474.8L371.2,478.5L370.3,477.4ZM384.8,473.8L381.9,480.6L380.4,479.8ZM395.8,476.9L388.0,477.1L388.2,475.4ZM405.5,476.5L397.2,476.8L397.3,475.0ZM414.3,478.2L408.9,475.1L409.8,473.8ZM423.9,477.8L418.4,476.8L418.8,475.4ZM433.1,477.5L428.2,476.3L428.7,475.0ZM441.1,475.6L439.3,475.1L439.8,474.2ZM345.2,483.6L346.3,486.8L345.1,486.9ZM353.7,482.3L355.0,486.7L353.6,486.9ZM365.2,482.6L364.4,488.5L362.9,488.1ZM374.1,482.2L372.5,490.3L370.8,489.7ZM414.6,487.4L409.8,482.9L411.0,481.9ZM422.8,486.0L419.1,483.9L419.9,482.8ZM431.1,486.4L428.6,485.2L429.3,484.3ZM441.0,486.1L439.0,484.5L439.8,483.8ZM343.9,494.0L344.4,495.9L343.3,495.8ZM353.3,493.9L353.7,496.5L352.6,496.4ZM362.3,489.8L364.5,497.1L362.9,497.4ZM424.8,497.7L418.6,492.9L419.8,491.6ZM432.7,497.5L428.8,492.4L430.1,491.6ZM441.3,494.5L439.7,493.4L440.5,492.8ZM343.3,503.1L344.4,504.9L343.4,505.2ZM353.8,502.2L355.9,505.7L354.7,506.2ZM364.3,498.7L366.0,506.3L364.3,506.5ZM423.5,507.8L419.3,499.8L421.1,499.1ZM431.4,506.4L429.3,500.5L430.8,500.2ZM440.4,504.5L439.1,502.2L440.1,501.8ZM344.4,512.4L345.8,513.6L345.0,514.1ZM352.9,510.2L355.4,514.9L354.1,515.4ZM362.2,509.9L364.3,515.9L362.8,516.2ZM420.7,516.3L421.8,509.1L423.4,509.5ZM431.1,514.0L431.0,509.8L432.3,510.0ZM441.4,512.6L440.3,511.1L441.3,510.7ZM343.6,520.8L345.2,521.8L344.5,522.5ZM352.9,521.7L356.3,522.7L355.8,523.8ZM361.5,518.4L364.9,523.0L363.6,523.7ZM370.8,521.1L377.8,521.1L377.6,522.8ZM411.5,523.7L411.9,518.3L413.3,518.6ZM420.3,526.1L419.6,517.8L421.4,517.9ZM430.3,523.3L429.6,521.5L430.6,521.4ZM440.8,522.0L440.8,520.1L441.8,520.4ZM342.8,530.5L346.6,532.2L345.9,533.3ZM353.2,529.4L356.2,529.6L355.9,530.8ZM362.0,528.9L367.2,530.3L366.6,531.6ZM371.3,530.9L374.4,531.5L374.0,532.6ZM378.9,530.7L386.6,530.3L386.5,532.0ZM388.2,532.6L395.4,529.3L395.9,531.0ZM399.2,533.2L405.2,527.3L406.3,528.7ZM411.1,533.0L413.8,529.2L414.8,530.2ZM418.5,533.9L422.0,529.0L423.1,530.1ZM429.2,532.4L431.7,529.1L432.6,530.1ZM440.4,532.2L440.6,528.4L441.8,528.7ZM361.5,539.3L364.7,541.3L363.9,542.3ZM371.3,538.0L376.1,540.2L375.4,541.4ZM382.2,540.9L384.4,540.0L384.6,541.1ZM390.1,541.9L395.0,538.4L395.7,539.7ZM400.5,540.5L405.4,537.5L405.9,538.9ZM410.2,541.4L412.7,536.8L413.9,537.6ZM421.4,541.7L421.9,537.7L423.2,538.1ZM373.2,549.0L375.5,548.0L375.7,549.0ZM382.7,548.3L384.5,547.9L384.4,548.9ZM390.5,549.6L394.3,545.9L395.2,547.0ZM402.1,549.3L403.6,548.2L404.0,549.1ZM410.8,549.2L413.7,547.9L414.0,549.1ZM390.4,557.0L394.7,557.2L394.5,558.5Z" fill="#0a0a0a" stroke="#0a0a0a" stroke-width="0.4" stroke-linejoin="round"/>
<path d="M514.3,456.3L516.2,456.3L515.9,457.2ZM523.4,455.4L526.8,456.8L526.1,457.9ZM533.3,455.1L534.9,456.0L534.2,456.7ZM493.7,466.6L495.5,466.1L495.5,467.1ZM504.2,466.0L505.9,465.2L506.1,466.2ZM514.8,465.5L516.4,464.6L516.6,465.5ZM522.8,466.6L524.7,465.7L524.9,466.8ZM532.3,465.1L536.3,464.7L536.2,465.9ZM543.1,465.2L544.6,466.2L543.8,466.9ZM553.0,465.9L554.9,466.2L554.4,467.1ZM476.4,476.5L477.2,474.8L477.9,475.5ZM485.1,476.3L487.7,473.2L488.5,474.2ZM495.1,475.4L496.6,473.4L497.4,474.2ZM501.4,476.1L508.5,474.9L508.5,476.6ZM512.6,477.0L517.8,473.6L518.4,475.0ZM522.2,475.7L528.3,475.2L528.2,476.7ZM532.6,473.7L536.0,475.1L535.4,476.2ZM541.9,474.4L545.0,474.9L544.6,476.0ZM553.7,473.5L555.0,477.4L553.8,477.6ZM563.2,474.8L563.9,476.6L562.9,476.6ZM476.6,484.7L477.4,482.3L478.3,482.8ZM483.9,484.8L486.2,483.2L486.6,484.2ZM493.8,484.9L495.9,482.6L496.6,483.6ZM502.0,485.1L506.3,480.9L507.2,482.1ZM510.8,485.7L517.3,480.7L518.2,482.2ZM540.6,481.6L545.8,486.8L544.5,487.9ZM552.3,482.5L554.9,485.2L553.8,485.9ZM561.5,482.4L563.4,485.5L562.3,486.0ZM571.4,482.9L571.7,484.7L570.7,484.6ZM476.9,494.0L476.7,492.1L477.7,492.2ZM485.5,494.8L485.5,492.3L486.6,492.6ZM495.4,496.3L496.7,490.8L498.1,491.3ZM554.1,491.5L553.9,495.9L552.6,495.6ZM563.7,490.1L563.8,494.3L562.5,494.2ZM572.3,493.2L572.8,495.0L571.7,495.0ZM475.9,503.3L475.8,501.4L476.8,501.7ZM485.8,505.0L486.6,500.8L487.8,501.2ZM494.6,505.4L494.4,498.3L496.0,498.5ZM552.5,497.8L552.5,505.1L550.9,504.9ZM564.2,499.5L563.7,506.4L562.1,506.1ZM572.6,501.5L572.5,503.3L571.6,503.0ZM475.7,513.3L475.9,509.6L477.1,509.9ZM486.6,514.0L486.3,508.7L487.7,508.9ZM496.0,515.4L496.1,506.7L497.9,506.9ZM554.2,508.4L554.3,514.2L552.9,514.1ZM562.9,510.0L563.2,513.0L562.0,512.8ZM573.0,509.5L572.7,513.9L571.4,513.7ZM476.9,521.6L476.6,519.8L477.6,519.9ZM486.6,522.8L484.6,518.7L485.9,518.3ZM496.0,524.3L494.4,518.9L495.9,518.7ZM554.5,517.9L550.4,521.9L549.5,520.7ZM563.5,518.9L563.3,521.7L562.2,521.4ZM572.0,520.6L571.4,522.4L570.6,521.8ZM475.4,530.5L475.6,526.9L476.8,527.1ZM485.5,531.4L485.0,529.6L486.0,529.6ZM497.2,533.7L493.5,527.8L494.9,527.1ZM505.6,531.8L502.9,527.3L504.2,526.8ZM518.0,533.2L510.1,528.4L511.2,526.9ZM546.6,528.3L542.5,530.8L542.0,529.6ZM554.2,528.5L552.5,530.8L551.7,530.0ZM562.5,529.6L561.8,531.3L561.0,530.7ZM572.1,528.4L571.7,530.3L570.8,529.8ZM496.9,541.3L492.9,537.6L494.0,536.7ZM505.6,540.8L503.0,539.0L503.9,538.2ZM516.3,539.7L512.4,536.9L513.3,535.9ZM527.5,539.2L522.6,539.4L522.8,538.0ZM536.1,538.8L532.0,538.2L532.4,537.0ZM546.3,537.4L541.2,541.0L540.4,539.6ZM554.0,538.6L552.0,540.1L551.6,539.1ZM516.6,548.8L514.3,549.0L514.4,547.9ZM524.7,548.9L521.8,548.2L522.3,547.1ZM534.8,548.5L532.5,548.5L532.8,547.5Z" fill="#0a0a0a" stroke="#0a0a0a" stroke-width="0.4" stroke-linejoin="round"/>
<path d="M110.51,498.86 A18.3,18.3 0 1 0 131.35,481.38" fill="none" stroke="#2a2a2a" stroke-width="9.4"/><polygon points="124.4,480.4 133.3,474.6 131.4,488.4" fill="#2a2a2a" stroke="#2a2a2a" stroke-width="2.4" stroke-linejoin="round"/><path d="M110.51,498.86 A18.3,18.3 0 1 0 131.35,481.38" fill="none" stroke="#fff" stroke-width="7"/><polygon points="124.4,480.4 133.3,474.6 131.4,488.4" fill="#fff"/>
<path d="M257.40,519.10 A18.3,18.3 0 1 1 278.60,495.54" fill="none" stroke="#2a2a2a" stroke-width="9.4"/><polygon points="280.8,502.2 285.0,492.4 271.6,496.8" fill="#2a2a2a" stroke="#2a2a2a" stroke-width="2.4" stroke-linejoin="round"/><path d="M257.40,519.10 A18.3,18.3 0 1 1 278.60,495.54" fill="none" stroke="#fff" stroke-width="7"/><polygon points="280.8,502.2 285.0,492.4 271.6,496.8" fill="#fff"/>
<path d="M389.70,521.00 A18.3,18.3 0 1 1 410.90,497.44" fill="none" stroke="#2a2a2a" stroke-width="9.4"/><polygon points="413.1,504.1 417.3,494.3 403.9,498.7" fill="#2a2a2a" stroke="#2a2a2a" stroke-width="2.4" stroke-linejoin="round"/><path d="M389.70,521.00 A18.3,18.3 0 1 1 410.90,497.44" fill="none" stroke="#fff" stroke-width="7"/><polygon points="413.1,504.1 417.3,494.3 403.9,498.7" fill="#fff"/>
<path d="M506.41,506.06 A18.3,18.3 0 1 0 527.25,488.58" fill="none" stroke="#2a2a2a" stroke-width="9.4"/><polygon points="520.3,487.6 529.2,481.8 527.3,495.6" fill="#2a2a2a" stroke="#2a2a2a" stroke-width="2.4" stroke-linejoin="round"/><path d="M506.41,506.06 A18.3,18.3 0 1 0 527.25,488.58" fill="none" stroke="#fff" stroke-width="7"/><polygon points="520.3,487.6 529.2,481.8 527.3,495.6" fill="#fff"/>
<g font-size="17.4" fill="#222"><text x="76" y="592.8"><tspan font-weight="bold" fill="#2f5aa6">n</tspan> :106 GHz</text><text x="211" y="592.8"><tspan font-weight="bold" fill="#b5161c">m</tspan> :115 GHz</text><text x="345.5" y="592.8"><tspan font-weight="bold" fill="#b5161c">q</tspan> :106 GHz</text><text x="482.5" y="592.8"><tspan font-weight="bold" fill="#2f5aa6">p</tspan> :115 GHz</text></g>
<defs><linearGradient id="cb" x1="0" y1="0" x2="0" y2="1"><stop offset="0.000" stop-color="#eb0c0c"/><stop offset="0.050" stop-color="#f9230c"/><stop offset="0.100" stop-color="#f9480c"/><stop offset="0.150" stop-color="#f96d0c"/><stop offset="0.200" stop-color="#f9920c"/><stop offset="0.250" stop-color="#f9b70c"/><stop offset="0.300" stop-color="#f9dc0c"/><stop offset="0.350" stop-color="#f2f914"/><stop offset="0.400" stop-color="#cdf939"/><stop offset="0.450" stop-color="#a8f95e"/><stop offset="0.500" stop-color="#83f983"/><stop offset="0.550" stop-color="#5ef9a8"/><stop offset="0.600" stop-color="#39f9cd"/><stop offset="0.650" stop-color="#14f9f2"/><stop offset="0.700" stop-color="#0cdcf9"/><stop offset="0.750" stop-color="#0cb7f9"/><stop offset="0.800" stop-color="#0c92f9"/><stop offset="0.850" stop-color="#0c6df9"/><stop offset="0.900" stop-color="#0c48f9"/><stop offset="0.950" stop-color="#0c23f9"/><stop offset="1.000" stop-color="#0c0ceb"/></linearGradient></defs>
<rect x="610.8" y="432.5" width="14.9" height="154.7" fill="url(#cb)" stroke="#555" stroke-width="0.6"/>
<line x1="622.7" y1="458.5" x2="625.7" y2="458.5" stroke="#444" stroke-width="0.8"/>
<line x1="622.7" y1="484.0" x2="625.7" y2="484.0" stroke="#444" stroke-width="0.8"/>
<line x1="622.7" y1="509.8" x2="625.7" y2="509.8" stroke="#444" stroke-width="0.8"/>
<line x1="622.7" y1="535.5" x2="625.7" y2="535.5" stroke="#444" stroke-width="0.8"/>
<line x1="622.7" y1="561.0" x2="625.7" y2="561.0" stroke="#444" stroke-width="0.8"/>
<g font-family="Liberation Serif" fill="#111"><text x="631.8" y="438" font-size="19" font-style="italic">π</text><text x="631" y="515.4" font-size="19.5">0</text><text x="630" y="591" font-size="19" font-style="italic">–π</text></g>
<text transform="translate(608.2,508.5) rotate(-90)" font-size="17" text-anchor="middle" fill="#222">Phase</text>
</svg>
</body></html>
